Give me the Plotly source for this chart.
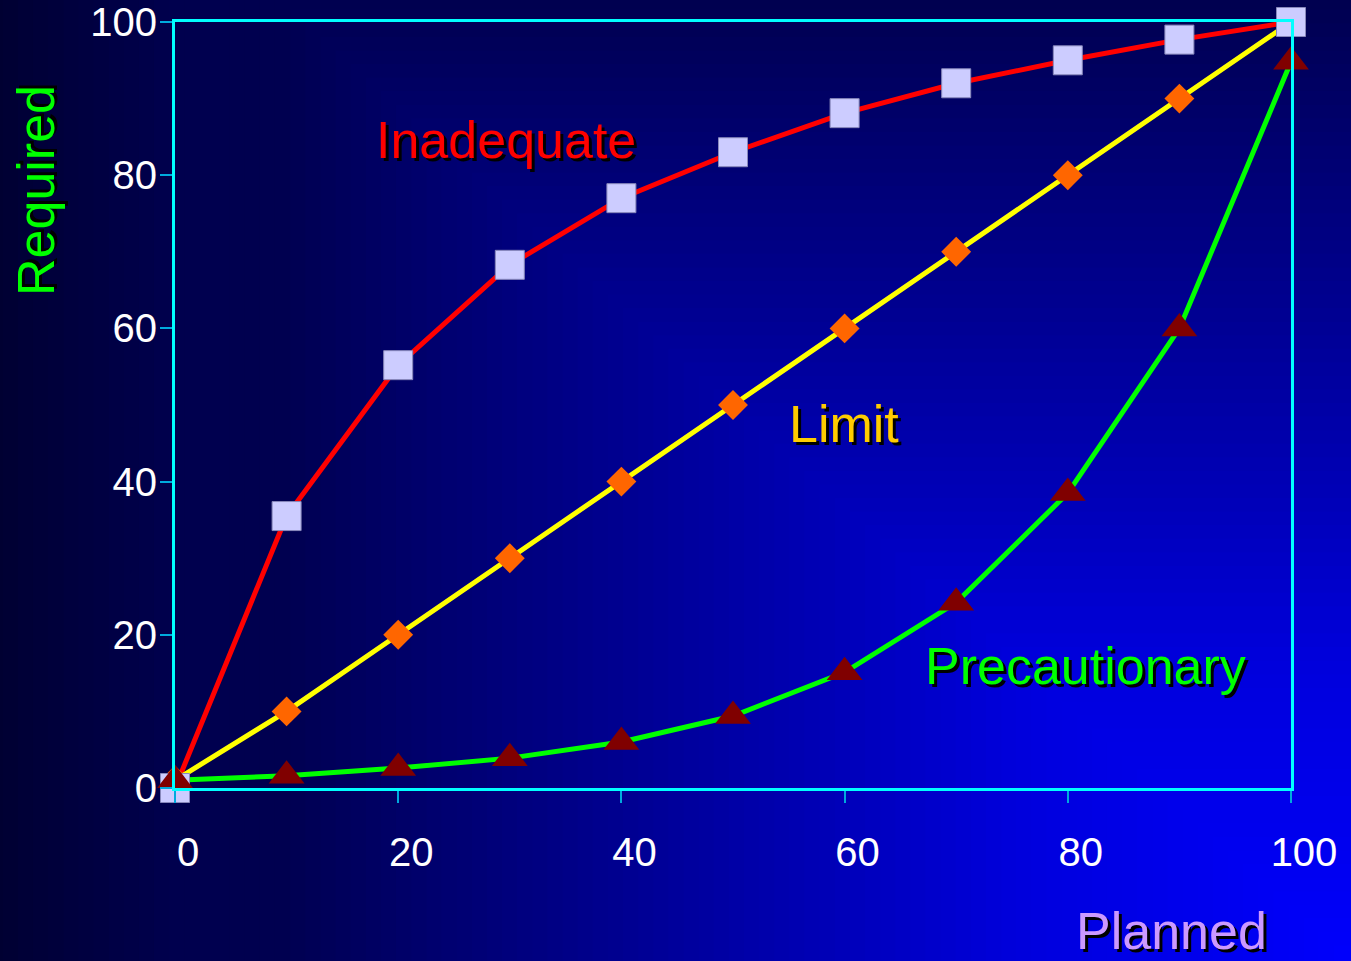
import plotly.graph_objects as go
import numpy as np

# ---- data ----
planned = [0, 10, 20, 30, 40, 50, 60, 70, 80, 90, 100]
inadequate = [0, 35.5, 55.2, 68.3, 77.0, 83.0, 88.1, 92.0, 95.0, 97.7, 100]
limit = [1, 10, 20, 30, 40, 50, 60, 70, 80, 90, 100]
precautionary = [1, 1.6, 2.6, 3.9, 6.0, 9.4, 15.1, 24.2, 38.5, 60.0, 94.8]
tick_vals = [0, 20, 40, 60, 80, 100]

W, H = 1351, 961
L, R, T, B = 175, 60, 22, 173
PW, PH = W - L - R, H - T - B


def px(x):
    return (x - L) / PW


def py(y):
    return (H - B - y) / PH


FONT = "Liberation Sans, Arial, sans-serif"

fig = go.Figure()

# line layer
for ys, col in [(inadequate, "#FF0000"), (limit, "#FFFF00"), (precautionary, "#00FF00")]:
    fig.add_trace(go.Scatter(x=planned, y=ys, mode="lines",
                             line=dict(color=col, width=5), cliponaxis=False,
                             hoverinfo="skip", showlegend=False))

# marker layer
fig.add_trace(go.Scatter(x=planned, y=limit, mode="markers", cliponaxis=False,
                         marker=dict(symbol="diamond", size=23, color="#FF6600",
                                     line=dict(width=0)), showlegend=False))
fig.add_trace(go.Scatter(x=planned, y=inadequate, mode="markers", cliponaxis=False,
                         marker=dict(symbol="square", size=29, color="#CCCCFF",
                                     line=dict(width=1, color="#8888BB")), showlegend=False))
fig.add_trace(go.Scatter(x=planned, y=precautionary, mode="markers", cliponaxis=False,
                         marker=dict(symbol="triangle-up", size=31, color="#800000",
                                     line=dict(width=0)), showlegend=False))

# ---- gradient background (from bottom-right corner) ----
tp = [0.0, 0.115, 0.308, 0.469, 0.558, 0.85, 1.0, 1.1, 1.27]
cp = [252, 240, 221, 187, 170, 112, 80, 78, 50]
shapes = []
N = 90
WX = 1072.0
for i in range(N, -1, -1):
    t = 1.27 * i / N
    c = int(round(np.interp(t, tp, cp)))
    x0 = W - t * WX
    y0 = H - t * H
    shapes.append(dict(type="rect", xref="paper", yref="paper",
                       x0=px(x0 - 2), x1=px(W + 5), y0=py(y0 - 2), y1=py(H + 5),
                       fillcolor=f"rgb(0,0,{c})", line=dict(width=0), layer="below"))

ann_font_shadow = "3px 3px 0px #000000"
annotations = [
    dict(text="Inadequate", x=px(506), y=py(140), font=dict(color="#FF0000")),
    dict(text="Limit", x=px(844), y=py(424), font=dict(color="#FFCC00")),
    dict(text="Precautionary", x=px(1085), y=py(666), font=dict(color="#00FF00")),
    dict(text="Planned", x=px(1171), y=py(931), font=dict(color="#CC99FF")),
    dict(text="Required", x=px(36), y=py(191), font=dict(color="#00FF00"), textangle=-90),
]
for a in annotations:
    a.update(xref="paper", yref="paper", showarrow=False, xanchor="center", yanchor="middle")
    a["font"].update(family=FONT, size=52, shadow=ann_font_shadow)

axis_common = dict(
    showline=True, mirror=True, linecolor="#00FFFF", linewidth=3,
    showgrid=False, zeroline=False,
    ticks="outside", ticklen=12, tickwidth=2, tickcolor="#00AADD",
    tickvals=tick_vals, tickfont=dict(family=FONT, size=40, color="#FFFFFF"),
    range=[0, 100],
)

fig.update_layout(
    width=W, height=H,
    margin=dict(l=L, r=R, t=T, b=B, autoexpand=False),
    paper_bgcolor="#000050", plot_bgcolor="rgba(0,0,0,0)",
    shapes=shapes, annotations=annotations,
    xaxis=dict(**axis_common, ticklabelshift=13, ticklabelstandoff=15),
    yaxis=dict(**axis_common, ticklabelstandoff=-5),
    showlegend=False,
)

fig.write_html("out.html")
